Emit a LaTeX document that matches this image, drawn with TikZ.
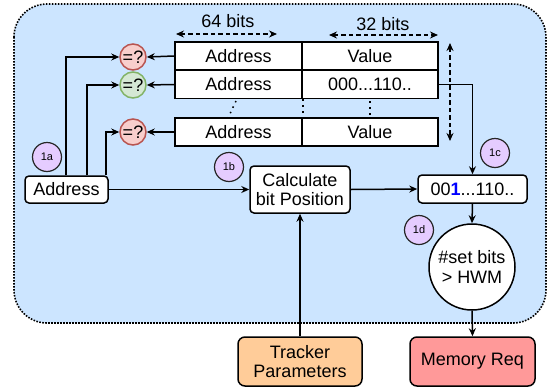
\documentclass[tikz,border=0pt]{standalone}
\usepackage{fontspec}
\setmainfont{Liberation Sans}
\usetikzlibrary{arrows.meta,calc}
\definecolor{bgblue}{HTML}{CCE5FF}
\definecolor{redfill}{HTML}{F8CECC}
\definecolor{redline}{HTML}{B85450}
\definecolor{greenfill}{HTML}{D5E8D4}
\definecolor{greenline}{HTML}{82B366}
\definecolor{lav}{HTML}{E5CCFF}
\definecolor{orangefill}{HTML}{FFCC99}
\definecolor{memfill}{HTML}{FF9999}
\tikzset{
  big/.style={font=\fontsize{18}{21}\selectfont},
  cell/.style={draw, line width=1.6pt, fill=white, big, inner sep=0pt, minimum height=28pt},
  rbox/.style={draw, line width=1.5pt, fill=white, rounded corners=4pt, big, inner sep=0pt, align=center},
  cmp/.style={circle, draw=redline, fill=redfill, line width=1.5pt, minimum size=26pt, inner sep=0pt, big},
  cmpg/.style={cmp, draw=greenline, fill=greenfill},
  tag/.style={circle, draw=black!85, fill=lav, line width=1.2pt, minimum size=29pt, inner sep=0pt, font=\fontsize{11}{12}\selectfont},
  arr/.style={line width=1.5pt, -{Stealth[length=8pt,width=7pt]}},
  darr/.style={line width=1.5pt, dashed, dash pattern=on 4.5pt off 3pt, {Stealth[length=8pt,width=7pt]}-{Stealth[length=8pt,width=7pt]}},
  dots/.style={line width=1.5pt, dash pattern=on 1.5pt off 4.5pt},
}
\begin{document}
\begin{tikzpicture}[x=1pt,y=-1pt]
\useasboundingbox (0,0) rectangle (547,389);
\draw[fill=bgblue, line width=1.6pt, dash pattern=on 1.6pt off 1.4pt, rounded corners=33pt] (14,4) rectangle (546,323);

% table
\node[cell, minimum width=127pt] (a1) at (238.5,56) {Address};
\node[cell, minimum width=136pt] (v1) at (370,56) {Value};
\node[cell, minimum width=127pt] (a2) at (238.5,84.5) {Address};
\node[cell, minimum width=136pt] (v2) at (370,84.5) {000...110..};
\node[cell, minimum width=127pt] (a3) at (238.5,132) {Address};
\node[cell, minimum width=136pt] (v3) at (370,132) {Value};

% dotted continuation
\coordinate (d1a) at (236,101);
\coordinate (d1b) at (228,118);
\draw[dots] (d1a) -- (d1b);
\draw[dots] (a2.south east) -- (a3.north east);
\coordinate (d3a) at (370,101);
\coordinate (d3b) at (370,118);
\draw[dots] (d3a) -- (d3b);

% width annotations
\coordinate (w64a) at (176,34);
\coordinate (w64b) at (277,34);
\draw[darr] (w64a) -- (w64b);
\node[big] (l64) at (228,21) {64 bits};
\coordinate (w32a) at (329,35);
\coordinate (w32b) at (438,35);
\draw[darr] (w32a) -- (w32b);
\node[big] (l32) at (383,24) {32 bits};
\coordinate (hta) at (450,43);
\coordinate (htb) at (450,141);
\draw[darr] (hta) -- (htb);

% comparators
\node[cmp] (c1) at (133,57) {=?};
\node[cmpg] (c2) at (133,85) {=?};
\node[cmp] (c3) at (133,132) {=?};
\draw[arr] (a1.west) -- (c1.east);
\draw[arr] (a2.west) -- (c2.east);
\draw[arr] (a3.west) -- (c3.east);

% address
\node[rbox, minimum width=83pt, minimum height=27pt] (addr) at (66.5,189.5) {Address};
\draw[arr] ([xshift=-0.5pt]addr.north) |- (c1.west);
\draw[arr] ([xshift=20.5pt]addr.north) |- (c2.west);
\draw[arr] ([xshift=39.5pt]addr.north) |- (c3.west);

% calculate
\node[rbox, minimum width=100pt, minimum height=47pt] (calc) at (300,189.5) {Calculate\\[-2pt]bit Position};
\draw[arr] (addr.east) -- (calc.west);

% bit vector
\node[rbox, minimum width=109pt, minimum height=28pt] (bv) at (472.5,189) {00\textcolor{blue}{\textbf{1}}...110..};
\draw[arr] (calc.east) -- (bv.west);
\draw[arr] (v2.east) -| (bv.north);

% threshold
\node[circle, draw, fill=white, line width=1.5pt, minimum size=86pt, inner sep=0pt, big, align=center] (hwm) at (472,267) {\#set bits\\[-1pt]> HWM};
\draw[arr] (bv.south) -- (hwm.north);

% outputs / inputs
\node[rbox, fill=memfill, minimum width=125pt, minimum height=49pt, rounded corners=7pt] (mem) at (472.5,361.5) {Memory Req};
\draw[arr] (hwm.south) -- (mem.north);
\node[rbox, fill=orangefill, minimum width=124pt, minimum height=49pt, rounded corners=7pt] (trk) at (300,361.5) {Tracker\\[-2pt]Parameters};
\draw[arr] (trk.north) -- (calc.south);

% step tags
\node[tag] (t1a) at (47,157) {1a};
\node[tag] (t1b) at (229,167) {1b};
\node[tag] (t1c) at (495,153) {1c};
\node[tag] (t1d) at (419,230) {1d};
\end{tikzpicture}
\end{document}
